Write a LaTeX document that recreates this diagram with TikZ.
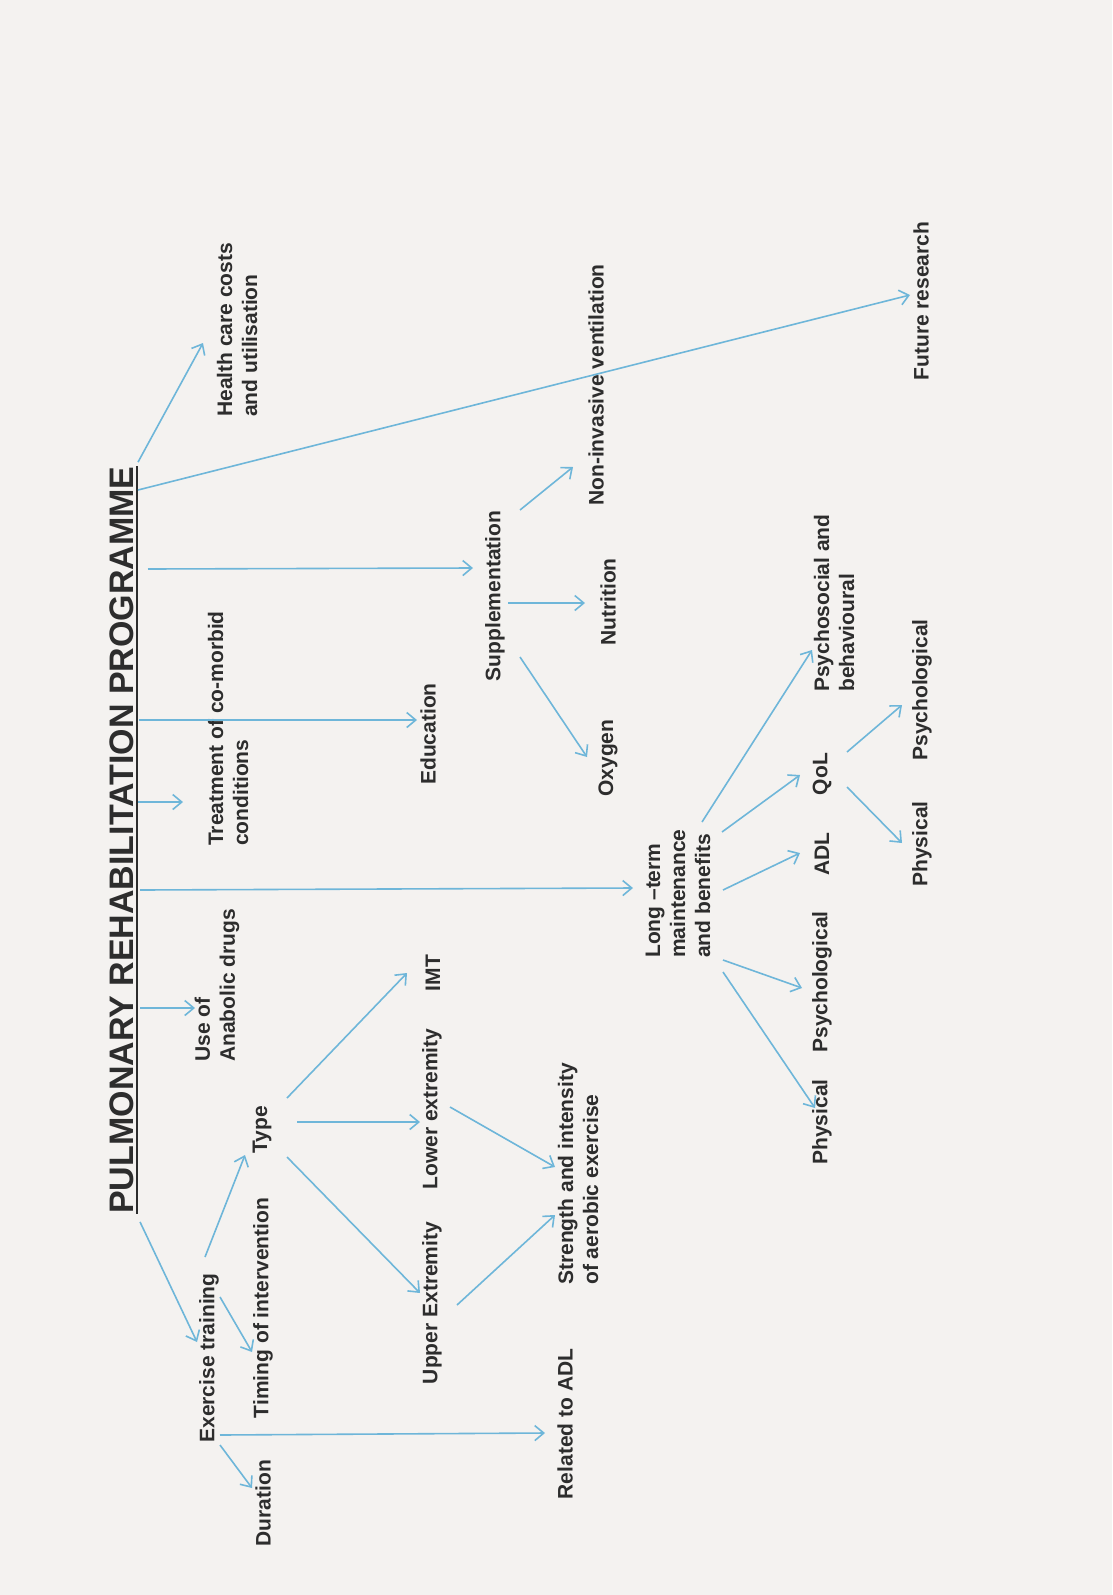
\documentclass[tikz,border=0pt]{standalone}
\usepackage{fontspec}
\setmainfont{Liberation Sans}
\usetikzlibrary{arrows.meta,calc}
\definecolor{paper}{RGB}{244,242,240}
\definecolor{ink}{RGB}{45,45,45}
\definecolor{lineblue}{RGB}{110,182,217}
\begin{document}
\begin{tikzpicture}[x=1pt,y=-1pt,
  lbl/.style={rotate=90, inner sep=0pt, text=ink, font=\fontsize{21}{25}\selectfont\bfseries},
  mlbl/.style={lbl, align=left, anchor=west},
  arr/.style={draw=lineblue, line width=1.6pt, -{Straight Barb[length=9pt,width=15pt]}},
  ul/.style={draw=ink, line width=2.2pt}
]
\fill[paper] (0,0) rectangle (1112,1595);
\useasboundingbox (0,0) rectangle (1112,1595);

% title
\node[lbl, font=\fontsize{34}{40}\selectfont\bfseries, anchor=south] (title) at (134,840) {PULMONARY REHABILITATION PROGRAMME};
\draw[ul] ([xshift=3pt]title.south west) -- ([xshift=3pt]title.south east);

% nodes
\node[mlbl] (health) at (237,417) {Health care costs\\and utilisation};
\node[lbl] (future) at (921,301) {Future research};
\node[lbl] (supp) at (495,596) {Supplementation};
\node[lbl] (niv) at (596,385) {Non-invasive ventilation};
\node[lbl] (nutr) at (608,602) {Nutrition};
\node[lbl] (oxy) at (608,758) {Oxygen};
\node[lbl] (edu) at (428,734) {Education};
\node[mlbl] (treat) at (228,846) {Treatment of co-morbid\\conditions};
\node[mlbl] (long) at (678,958) {Long –term\\maintenance\\and benefits};
\node[mlbl] (anab) at (217,1062) {Use of\\Anabolic drugs};
\node[lbl] (ex) at (209,1358) {Exercise training};
\node[lbl] (type) at (262,1130) {Type};
\node[lbl] (timing) at (263,1308) {Timing of intervention};
\node[lbl] (dur) at (263,1503) {Duration};
\node[lbl] (radl) at (565,1424) {Related to ADL};
\node[lbl] (imt) at (433,973) {IMT};
\node[lbl] (lower) at (432,1109) {Lower extremity};
\node[lbl] (upper) at (432,1303) {Upper Extremity};
\node[mlbl] (strength) at (578,1285) {Strength and intensity\\of aerobic exercise};
\node[mlbl] (psb) at (834,692) {Psychosocial and\\behavioural};
\node[lbl] (qol) at (822,774) {QoL};
\node[lbl] (adl) at (822,854) {ADL};
\node[lbl] (psy1) at (822,982) {Psychological};
\node[lbl] (phy1) at (822,1122) {Physical};
\node[lbl] (psy2) at (922,690) {Psychological};
\node[lbl] (phy2) at (922,844) {Physical};

% arrows from the title
\draw[arr] ($(title.south east)+(4,-4)$) -- ($(health.west)+(-34,-74)$);
\draw[arr] ($(title.south)+(4,-350)$) -- ($(future.center)+(-11,-6)$);
\draw[arr] ($(title.south)+(14,-271)$) -- ($(supp.center)+(-22,-28)$);
\draw[arr] ($(title.south)+(5,-120)$) -- ($(edu.center)+(-11,-14)$);
\draw[arr] ($(title.south)+(4,-38)$) -- ($(treat.west)+(-45,-44)$);
\draw[arr] ($(title.south)+(6,50)$) -- ($(long.west)+(-45,-70)$);
\draw[arr] ($(title.south)+(6,168)$) -- ($(anab.west)+(-22,-54)$);
\draw[arr] ($(title.south west)+(6,8)$) -- ($(ex.center)+(-12,-16)$);

% supplementation
\draw[arr] ($(supp.center)+(25,-86)$) -- ($(niv.center)+(-23,82)$);
\draw[arr] ($(supp.center)+(13,7)$) -- ($(nutr.center)+(-23,1)$);
\draw[arr] ($(supp.center)+(25,61)$) -- ($(oxy.center)+(-21,-1)$);

% exercise training
\draw[arr] ($(ex.center)+(-4,-101)$) -- ($(type.center)+(-17,25)$);
\draw[arr] ($(ex.center)+(11,-61)$) -- ($(timing.center)+(-11,44)$);
\draw[arr] ($(ex.center)+(11,87)$) -- ($(dur.center)+(-11,-15)$);
\draw[arr] ($(ex.center)+(11,77)$) -- ($(radl.center)+(-20,9)$);

% type
\draw[arr] ($(type.center)+(25,-32)$) -- ($(imt.center)+(-26,0)$);
\draw[arr] ($(type.center)+(35,-8)$) -- ($(lower.center)+(-12,13)$);
\draw[arr] ($(type.center)+(25,27)$) -- ($(upper.center)+(-12,-10)$);
\draw[arr] ($(lower.center)+(18,-2)$) -- ($(strength.west)+(-23,-118)$);
\draw[arr] ($(upper.center)+(25,2)$) -- ($(strength.west)+(-23,-70)$);

% long-term
\draw[arr] ($(long.west)+(24,-136)$) -- ($(psb.west)+(-22,-42)$);
\draw[arr] ($(long.west)+(44,-126)$) -- ($(qol.center)+(-22,1)$);
\draw[arr] ($(long.west)+(45,-68)$) -- ($(adl.center)+(-22,-1)$);
\draw[arr] ($(long.west)+(45,2)$) -- ($(psy1.center)+(-20,6)$);
\draw[arr] ($(long.west)+(45,14)$) -- ($(phy1.center)+(-7,-14)$);

% QoL
\draw[arr] ($(qol.center)+(25,-22)$) -- ($(psy2.center)+(-20,15)$);
\draw[arr] ($(qol.center)+(25,13)$) -- ($(phy2.center)+(-20,-1)$);
\end{tikzpicture}
\end{document}
